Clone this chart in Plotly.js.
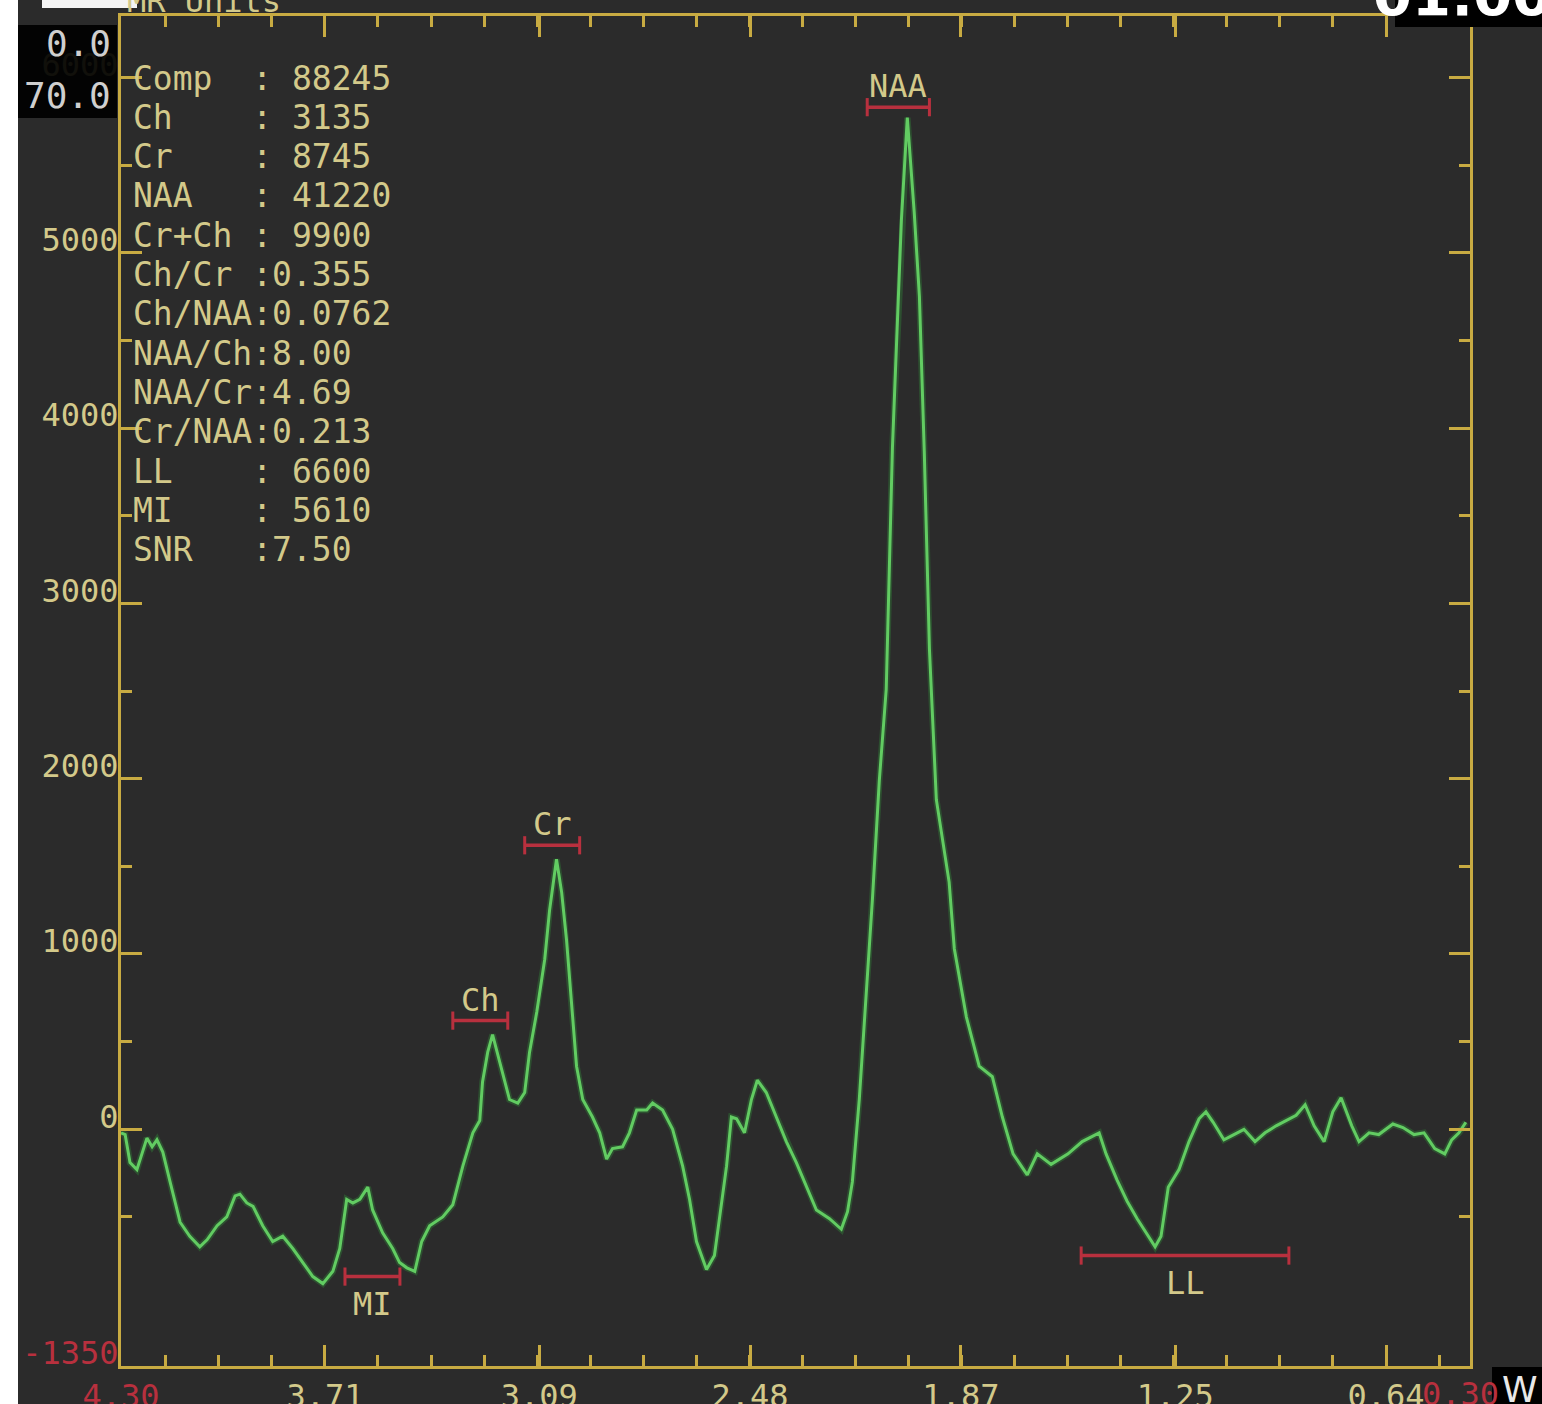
<!DOCTYPE html>
<html><head><meta charset="utf-8">
<script src="https://cdn.plot.ly/plotly-3.0.1.min.js"></script>
<style>html,body{margin:0;padding:0;background:#2b2b2b;overflow:hidden}</style>
</head><body><div id="chart" style="width:1542px;height:1404px"></div>
<script>
// ---- spectrum (ppm, MR units) ----
const ppm = [4.300,4.288,4.274,4.254,4.225,4.210,4.196,4.179,4.158,4.129,4.101,4.072,4.051,4.022,3.994,3.970,3.956,3.936,3.918,3.890,
 3.861,3.832,3.803,3.774,3.745,3.716,3.687,3.667,3.647,3.629,3.609,3.586,3.572,3.543,3.514,3.494,3.473,3.450,3.430,3.407,
 3.369,3.340,3.311,3.282,3.262,3.254,3.239,3.225,3.204,3.176,3.152,3.132,3.118,3.097,3.074,3.060,3.040,3.025,3.011,2.996,
 2.982,2.964,2.936,2.915,2.895,2.878,2.849,2.829,2.808,2.779,2.762,2.733,2.704,2.675,2.655,2.635,2.606,2.583,2.568,2.548,
 2.534,2.519,2.496,2.476,2.459,2.433,2.404,2.375,2.346,2.317,2.288,2.250,2.216,2.198,2.184,2.164,2.144,2.126,2.106,2.086,
 2.068,2.054,2.042,2.025,2.005,1.990,1.976,1.961,1.941,1.904,1.889,1.854,1.817,1.779,1.750,1.719,1.678,1.649,1.609,1.560,
 1.519,1.470,1.450,1.418,1.389,1.360,1.328,1.308,1.291,1.270,1.239,1.210,1.181,1.161,1.140,1.109,1.080,1.051,1.019,0.990,
 0.958,0.929,0.900,0.874,0.848,0.819,0.794,0.770,0.739,0.718,0.689,0.661,0.620,0.591,0.559,0.530,0.499,0.470,0.450,0.429,0.409];
const signal = [-20,-30,-190,-230,-50,-100,-60,-130,-300,-530,-610,-670,-630,-550,-500,-380,-370,-420,-440,-550,
 -640,-610,-680,-760,-840,-880,-810,-680,-400,-420,-400,-330,-460,-590,-680,-760,-790,-810,-640,-550,
 -500,-430,-210,-20,50,270,440,540,380,170,150,210,440,670,970,1250,1540,1350,1080,700,
 360,170,70,-20,-170,-110,-100,-20,110,110,150,110,0,-210,-400,-640,-800,-720,-500,-210,
 70,60,-20,170,280,210,70,-70,-190,-320,-460,-510,-570,-470,-300,170,740,1310,1990,2510,
 3890,4540,5190,5770,5230,4750,3870,2740,1880,1410,1030,640,360,300,70,-140,-260,-140,-200,-140,
 -70,-20,-140,-290,-410,-510,-610,-670,-610,-330,-230,-70,60,100,40,-60,-30,0,-70,-20,
 20,50,80,140,20,-70,100,180,20,-70,-20,-30,30,10,-30,-20,-110,-140,-60,-20,40];

// ---- axes ----
const yTickVals  = [-1350, 0, 1000, 2000, 3000, 4000, 5000, 6000];
const yTickText  = ['-1350','0','1000','2000','3000','4000','5000','6000'];
const xTickLabels = ['4.30','3.71','3.09','2.48','1.87','1.25','0.64'];
const xEndLabel = '0.30';

// ---- peak markers ----
const peakNames = ['MI','Ch','Cr','NAA','LL'];
const peakFrom  = [3.652, 3.340, 3.132, 2.141, 1.522];
const peakTo    = [3.493, 3.181, 2.973, 1.961, 0.921];
const peakLevel = [-840, 620, 1620, 5830, -720];

// ---- results table ----
const statNames  = ['Comp','Ch','Cr','NAA','Cr+Ch','Ch/Cr','Ch/NAA','NAA/Ch','NAA/Cr','Cr/NAA','LL','MI','SNR'];
const statValues = [' 88245',' 3135',' 8745',' 41220',' 9900','0.355','0.0762','8.00','4.69','0.213',' 6600',' 5610','7.50'];

// ---- styling ----
const W = 1542, H = 1404, L = 121, R = 1470, T = 16, B = 1366;
const GOLD = '#c8ab42', TXT = '#d3c98a', RED = '#b8303e', GREEN = '#62cc62';
const MONO = 'DejaVu Sans Mono, Liberation Mono, monospace';
const px = x => (x - L) / (R - L);
const py = y => (B - y) / (B - T);
const nb = s => s.replace(/ /g, '\u00A0');

const traces = [
  {x: ppm, y: signal, type: 'scatter', mode: 'lines', line: {color: '#2f6e34', width: 6.5}, opacity: 0.55, hoverinfo: 'skip'},
  {x: ppm, y: signal, type: 'scatter', mode: 'lines', line: {color: GREEN, width: 3}}
];
peakNames.forEach((n, i) => {
  traces.push({x: [peakFrom[i], peakTo[i]], y: [peakLevel[i], peakLevel[i]], type: 'scatter', mode: 'lines+markers',
    line: {color: RED, width: 3.5},
    marker: {symbol: 'line-ns', size: 13, line: {color: RED, width: 3}}, hoverinfo: 'skip'});
});

const annotations = [];
const below = {MI: true, LL: true};
peakNames.forEach((n, i) => {
  annotations.push({x: (peakFrom[i] + peakTo[i]) / 2, y: peakLevel[i], xref: 'x', yref: 'y', text: n, showarrow: false,
    yshift: below[n] ? -27 : 21, font: {family: MONO, size: 32, color: TXT}});
});
statNames.forEach((n, i) => {
  annotations.push({x: px(131), y: py(78 + i * 39.3), xref: 'paper', yref: 'paper', xanchor: 'left', yanchor: 'middle',
    text: nb(n.padEnd(6, ' ') + ':' + statValues[i]), showarrow: false, font: {family: MONO, size: 33, color: TXT}});
});
annotations.push(
  {x: px(113), y: py(44), xref: 'paper', yref: 'paper', xanchor: 'right', yanchor: 'middle', text: '0.0', showarrow: false, font: {family: MONO, size: 36, color: '#cfcfcf'}},
  {x: px(113), y: py(95), xref: 'paper', yref: 'paper', xanchor: 'right', yanchor: 'middle', text: '70.0', showarrow: false, font: {family: MONO, size: 36, color: '#cfcfcf'}},
  {x: px(125), y: py(1), xref: 'paper', yref: 'paper', xanchor: 'left', yanchor: 'middle', text: nb('MR Units'), showarrow: false, font: {family: MONO, size: 32, color: TXT}},
  {x: px(1462), y: py(-4), xref: 'paper', yref: 'paper', xanchor: 'center', yanchor: 'middle', text: '01:00', showarrow: false, font: {family: 'DejaVu Sans', size: 56, color: '#ffffff', weight: 'bold'}},
  {x: px(1460), y: py(1394), xref: 'paper', yref: 'paper', xanchor: 'center', yanchor: 'middle', text: xEndLabel, showarrow: false, font: {family: MONO, size: 32, color: RED}},
  {x: px(1520), y: py(1390), xref: 'paper', yref: 'paper', xanchor: 'center', yanchor: 'middle', text: 'W', showarrow: false, font: {family: 'DejaVu Sans', size: 36, color: '#e8e8e8'}}
);

const rect = (x0, y0, x1, y1, color, op) => ({type: 'rect', xref: 'paper', yref: 'paper', layer: 'above',
  x0: px(x0), x1: px(x1), y0: py(y1), y1: py(y0), fillcolor: color, opacity: op, line: {width: 0}});
const shapes = [
  rect(0, -5, 18, 1410, '#ffffff', 1),
  rect(18, 25, 117, 118, '#000000', 0.92),
  rect(42, -10, 137, 8, '#f4f4f4', 1),
  rect(1395, -5, 1547, 27, '#000000', 1),
  rect(1492, 1367, 1547, 1410, '#000000', 1)
];

const axisCommon = {showline: true, linecolor: GOLD, linewidth: 3, mirror: 'ticks', ticks: 'inside', tickcolor: GOLD,
  tickwidth: 3, ticklen: 21, showgrid: false, zeroline: false, fixedrange: true,
  tickfont: {family: MONO, size: 32, color: TXT}};

const layout = {
  width: W, height: H, margin: {l: L, r: W - R, t: T, b: H - B, pad: 0},
  paper_bgcolor: '#2b2b2b', plot_bgcolor: '#2b2b2b', showlegend: false,
  xaxis: Object.assign({}, axisCommon, {
    range: [4.30, 0.397], tickmode: 'array', tickvals: xTickLabels.map(Number),
    ticktext: xTickLabels.map((t, i) => i === 0 ? '<span style="color:' + RED + '">' + t + '</span>' : t),
    ticklabelstandoff: 0,
    minor: {tickmode: 'linear', tick0: 0.64, dtick: 0.1535, ticks: 'inside', ticklen: 11, tickwidth: 3, tickcolor: GOLD, showgrid: false}
  }),
  yaxis: Object.assign({}, axisCommon, {
    range: [-1350, 6350], tickmode: 'array', tickvals: yTickVals,
    ticktext: yTickText.map((t, i) => i === 0 ? '<span style="color:' + RED + '">' + t + '</span>' : t),
    ticklabelshift: -13, ticklabelstandoff: -7,
    minor: {tickmode: 'linear', tick0: 500, dtick: 1000, ticks: 'inside', ticklen: 11, tickwidth: 3, tickcolor: GOLD, showgrid: false}
  }),
  annotations: annotations, shapes: shapes
};

Plotly.newPlot('chart', traces, layout, {displayModeBar: false, staticPlot: true});
</script></body></html>
